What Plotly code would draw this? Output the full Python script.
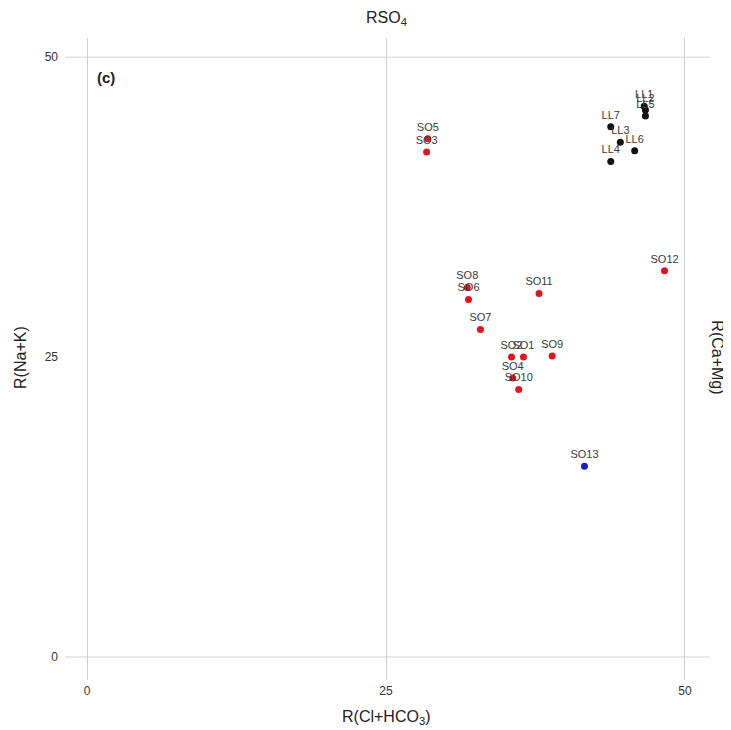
import plotly.graph_objects as go

# Red samples (SO series)
so_names = ["SO5", "SO3", "SO12", "SO8", "SO6", "SO11", "SO7", "SO2", "SO1", "SO9", "SO4", "SO10"]
so_x = [28.5, 28.4, 48.3, 31.8, 31.9, 37.8, 32.9, 35.5, 36.5, 38.9, 35.6, 36.1]
so_y = [43.2, 42.1, 32.2, 30.8, 29.8, 30.3, 27.3, 25.0, 25.0, 25.1, 23.25, 22.3]

# Black samples (LL series)
ll_names = ["LL7", "LL3", "LL6", "LL4", "LL1", "LL2", "LL5"]
ll_x = [43.8, 44.6, 45.8, 43.8, 46.6, 46.7, 46.7]
ll_y = [44.2, 42.9, 42.2, 41.3, 45.9, 45.6, 45.1]

# Blue sample
bl_names = ["SO13"]
bl_x = [41.6]
bl_y = [15.9]

x_ticks = [0, 25, 50]
y_ticks = [0, 25, 50]
grid_y = [0, 50]

FONT = "Liberation Sans, Arial, sans-serif"

fig = go.Figure()

def add_series(xs, ys, names, color):
    fig.add_trace(go.Scatter(
        x=xs, y=ys, text=names, mode="markers+text",
        textposition="top center",
        textfont=dict(family=FONT, size=11, color="#3a3a3a"),
        marker=dict(size=7, color=color),
        showlegend=False, cliponaxis=False,
    ))

add_series(so_x, so_y, so_names, "#e3141c")
add_series(ll_x, ll_y, ll_names, "#111111")
add_series(bl_x, bl_y, bl_names, "#1c1ccc")

for gy in grid_y:
    fig.add_shape(type="line", xref="paper", x0=0, x1=1, yref="y", y0=gy, y1=gy,
                  line=dict(color="#d4d4d4", width=1), layer="below")

fig.update_xaxes(range=[-1.85, 52.1], tickvals=x_ticks, ticktext=[str(v) for v in x_ticks],
                 showgrid=True, gridcolor="#cfcfcf", gridwidth=1, zeroline=False,
                 showline=False, ticks="", ticklabelstandoff=2,
                 tickfont=dict(family=FONT, size=12, color="#333"))
fig.update_yaxes(range=[-1.92, 51.6], tickvals=y_ticks, ticktext=[str(v) for v in y_ticks],
                 showgrid=False, zeroline=False, showline=False, ticks="",
                 ticklabelstandoff=6,
                 tickfont=dict(family=FONT, size=12, color="#333"))

TF = dict(family=FONT, size=16, color="#222")
annotations = [
    dict(text="RSO<sub>4</sub>", x=25, xref="x", y=1.031, yref="paper",
         yanchor="middle", font=TF),
    dict(text="R(Cl+HCO<sub>3</sub>)", x=25, xref="x", y=-0.059, yref="paper",
         yanchor="middle", font=TF),
    dict(text="R(Na+K)", x=-0.07, xref="paper", y=25, yref="y", textangle=-90,
         xanchor="center", yanchor="middle", font=TF),
    dict(text="R(Ca+Mg)", x=1.012, xref="paper", y=25, yref="y", textangle=90,
         xanchor="center", yanchor="middle", font=TF),
    dict(text="<b>(c)</b>", x=0.7, xref="x", y=48.3, yref="y",
         xanchor="left", yanchor="middle", font=dict(family=FONT, size=15, color="#222")),
]

fig.update_layout(
    width=723, height=722,
    margin=dict(l=57, r=21, t=30, b=50),
    plot_bgcolor="white", paper_bgcolor="white",
    annotations=[dict(showarrow=False, **a) for a in annotations],
)

fig.write_html("out.html")
